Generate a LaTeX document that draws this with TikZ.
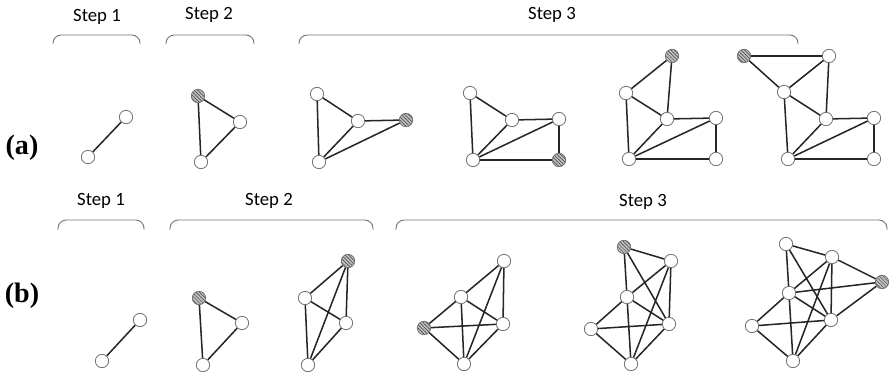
\documentclass[tikz,border=0pt]{standalone}
\usepackage{fontspec}
\setmainfont{Carlito}
\newfontfamily\rowfont{Liberation Serif}
\usepackage{tikz}
\usetikzlibrary{patterns}

\tikzset{
  vtx/.style={circle, draw=black!55, line width=0.7pt, fill=white, minimum size=0.4cm, inner sep=0pt},
  hvtx/.style={vtx, preaction={fill=black!25}, pattern=north west lines, pattern color=black!75},
  edge/.style={line width=1.3pt, draw=black!85},
  brace/.style={draw=black!55, line width=0.8pt, rounded corners=7pt},
  steplabel/.style={font=\fontsize{16}{18}\selectfont},
  rowlabel/.style={font=\rowfont\bfseries\fontsize{24}{26}\selectfont}
}

\begin{document}
\begin{tikzpicture}[x=0.03cm, y=-0.03cm]
  \useasboundingbox (0,0) rectangle (890,374);

  % row (a)
  \node[rowlabel] (rowa) at (22,148) {(a)};
  \node[steplabel] (sa1) at (97,17) {Step 1};
  \node[steplabel] (sa2) at (209,15) {Step 2};
  \node[steplabel] (sa3) at (552,15) {Step 3};
  \draw[brace] (53,44) -- (53,35) -- (140,35) -- (140,44);
  \draw[brace] (166,44) -- (166,35) -- (254,35) -- (254,44);
  \draw[brace] (299,44) -- (299,35) -- (798,35) -- (798,44);

  \node[vtx] (a1p) at (88,157) {};
  \node[vtx] (a1q) at (126,117) {};
  \draw[edge] (a1p) -- (a1q);

  \node[hvtx] (a2s) at (198,96) {};
  \node[vtx] (a2r) at (240,122) {};
  \node[vtx] (a2b) at (201,162) {};
  \draw[edge] (a2s) -- (a2r) -- (a2b) -- (a2s);

  \node[vtx] (a3t) at (317,94) {};
  \node[vtx] (a3m) at (358,121) {};
  \node[hvtx] (a3s) at (406,120) {};
  \node[vtx] (a3b) at (319,162) {};
  \draw[edge] (a3t) -- (a3m) (a3t) -- (a3b) (a3m) -- (a3b)
    (a3m) -- (a3s) (a3b) -- (a3s);

  \node[vtx] (a4t) at (470,93) {};
  \node[vtx] (a4m) at (512,120) {};
  \node[vtx] (a4r) at (559,119) {};
  \node[vtx] (a4b) at (473,160) {};
  \node[hvtx] (a4s) at (559,160) {};
  \draw[edge] (a4t) -- (a4m) (a4t) -- (a4b) (a4m) -- (a4r) (a4m) -- (a4b)
    (a4b) -- (a4r) (a4b) -- (a4s) (a4r) -- (a4s);

  \node[hvtx] (a5s) at (672,56) {};
  \node[vtx] (a5l) at (626,93) {};
  \node[vtx] (a5m) at (667,119) {};
  \node[vtx] (a5r) at (716,118) {};
  \node[vtx] (a5b) at (629,159) {};
  \node[vtx] (a5c) at (716,159) {};
  \draw[edge] (a5s) -- (a5l) (a5s) -- (a5m) (a5l) -- (a5m) (a5l) -- (a5b)
    (a5m) -- (a5r) (a5m) -- (a5b) (a5b) -- (a5r) (a5b) -- (a5c) (a5r) -- (a5c);

  \node[hvtx] (a6s) at (744,56) {};
  \node[vtx] (a6t) at (829,56) {};
  \node[vtx] (a6l) at (784,92) {};
  \node[vtx] (a6m) at (826,119) {};
  \node[vtx] (a6r) at (874,118) {};
  \node[vtx] (a6b) at (788,159) {};
  \node[vtx] (a6c) at (874,159) {};
  \draw[edge] (a6s) -- (a6t) (a6s) -- (a6l) (a6t) -- (a6l) (a6t) -- (a6m)
    (a6l) -- (a6m) (a6l) -- (a6b) (a6m) -- (a6r) (a6m) -- (a6b)
    (a6b) -- (a6r) (a6b) -- (a6c) (a6r) -- (a6c);

  % row (b)
  \node[rowlabel] (rowb) at (22,296) {(b)};
  \node[steplabel] (sb1) at (101,201) {Step 1};
  \node[steplabel] (sb2) at (269,201) {Step 2};
  \node[steplabel] (sb3) at (643,202) {Step 3};
  \draw[brace] (58,230) -- (58,220) -- (144,220) -- (144,230);
  \draw[brace] (170,230) -- (170,220) -- (373,220) -- (373,230);
  \draw[brace] (396,230) -- (396,220) -- (887,220) -- (887,230);

  \node[vtx] (b1p) at (102,361) {};
  \node[vtx] (b1q) at (140,320) {};
  \draw[edge] (b1p) -- (b1q);

  \node[hvtx] (b2s) at (199,298) {};
  \node[vtx] (b2r) at (242,323) {};
  \node[vtx] (b2b) at (203,365) {};
  \draw[edge] (b2s) -- (b2r) -- (b2b) -- (b2s);

  \node[hvtx] (b3s) at (348,261) {};
  \node[vtx] (b3l) at (305,298) {};
  \node[vtx] (b3r) at (346,323) {};
  \node[vtx] (b3b) at (308,365) {};
  \draw[edge] (b3s) -- (b3l) (b3s) -- (b3r) (b3s) -- (b3b)
    (b3l) -- (b3r) (b3l) -- (b3b) (b3r) -- (b3b);

  \node[vtx] (b4t) at (504,261) {};
  \node[vtx] (b4m) at (461,297) {};
  \node[vtx] (b4r) at (503,324) {};
  \node[hvtx] (b4s) at (424,328) {};
  \node[vtx] (b4b) at (464,364) {};
  \draw[edge] (b4t) -- (b4m) (b4t) -- (b4r) (b4t) -- (b4b) (b4m) -- (b4s)
    (b4m) -- (b4r) (b4m) -- (b4b) (b4s) -- (b4r) (b4s) -- (b4b) (b4r) -- (b4b);

  \node[hvtx] (b5s) at (624,247) {};
  \node[vtx] (b5t) at (671,261) {};
  \node[vtx] (b5m) at (627,297) {};
  \node[vtx] (b5l) at (591,329) {};
  \node[vtx] (b5r) at (669,324) {};
  \node[vtx] (b5b) at (631,364) {};
  \draw[edge] (b5s) -- (b5t) (b5s) -- (b5m) (b5s) -- (b5r) (b5t) -- (b5m)
    (b5t) -- (b5r) (b5t) -- (b5b) (b5m) -- (b5l) (b5m) -- (b5r) (b5m) -- (b5b)
    (b5l) -- (b5r) (b5l) -- (b5b) (b5r) -- (b5b);

  \node[vtx] (b6a) at (786,244) {};
  \node[vtx] (b6t) at (832,257) {};
  \node[hvtx] (b6s) at (882,282) {};
  \node[vtx] (b6m) at (789,293) {};
  \node[vtx] (b6r) at (831,320) {};
  \node[vtx] (b6l) at (752,326) {};
  \node[vtx] (b6b) at (793,361) {};
  \draw[edge] (b6a) -- (b6t) (b6a) -- (b6m) (b6a) -- (b6r) (b6t) -- (b6m)
    (b6t) -- (b6r) (b6t) -- (b6s) (b6t) -- (b6b) (b6m) -- (b6s) (b6m) -- (b6r)
    (b6m) -- (b6l) (b6m) -- (b6b) (b6r) -- (b6s) (b6r) -- (b6l) (b6r) -- (b6b)
    (b6l) -- (b6b);
\end{tikzpicture}
\end{document}
